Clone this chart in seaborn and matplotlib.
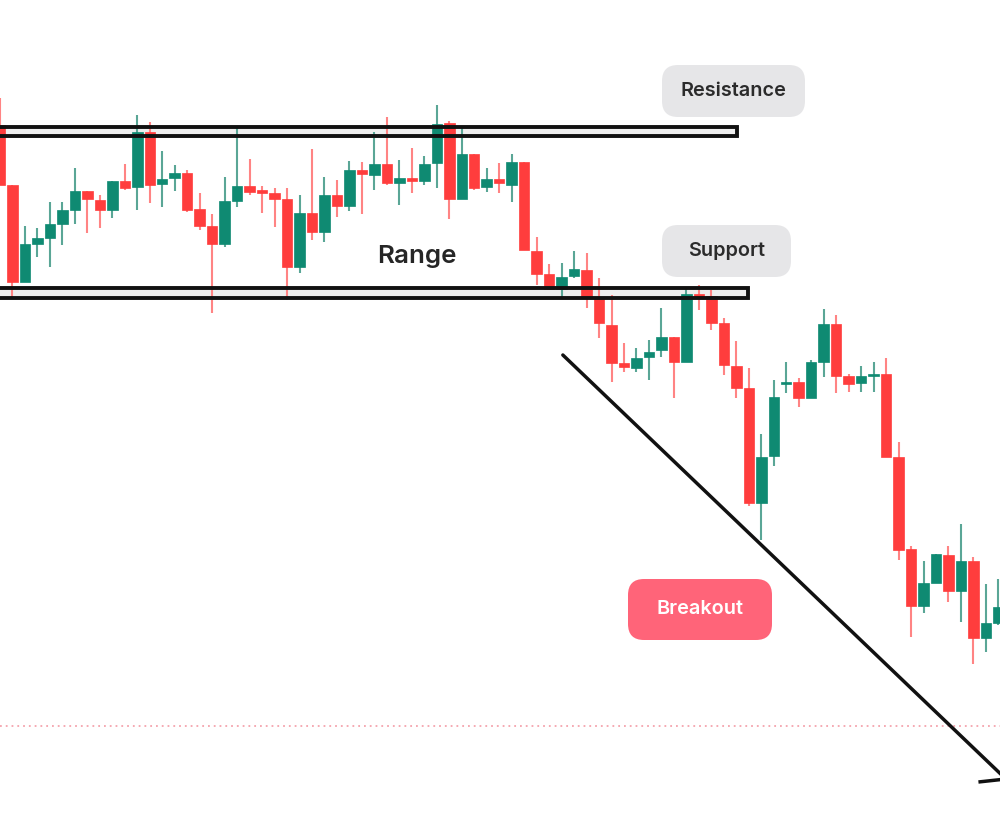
import matplotlib
matplotlib.use("Agg")
import matplotlib.pyplot as plt
from matplotlib.patches import FancyBboxPatch, Rectangle
import numpy as np
import pandas as pd
import seaborn as sns

# ---- data (price units) ----
opens = [710, 650, 553, 591, 597, 611, 625, 644, 635, 625, 654, 648, 703, 651, 657, 662, 626, 609, 591, 634,
         649, 645, 642, 636, 568, 622, 603, 640, 629, 665, 660, 671, 652, 657, 654, 672, 712, 636, 681, 648,
         656, 650, 673, 584, 561, 546, 559, 565, 538, 510, 472, 467, 478, 485, 498, 473, 541, 539, 512, 469,
         447, 332, 379, 451, 453, 437, 473, 511, 459, 452, 459, 461, 378, 286, 229, 252, 280, 244, 274, 197, 212]
highs = [737, 650, 609, 607, 633, 633, 667, 644, 640, 654, 671, 720, 713, 684, 670, 665, 642, 621, 658, 709,
         676, 649, 647, 647, 640, 686, 658, 655, 674, 673, 703, 718, 675, 687, 679, 730, 714, 709, 681, 667,
         672, 681, 673, 598, 571, 572, 584, 582, 557, 540, 492, 487, 495, 527, 498, 548, 550, 545, 517, 494,
         467, 401, 455, 473, 457, 475, 526, 520, 461, 469, 473, 477, 393, 289, 274, 281, 289, 311, 278, 251, 256]
lows = [650, 537, 553, 578, 568, 590, 611, 602, 607, 617, 645, 625, 632, 628, 644, 623, 605, 522, 588, 628,
        640, 622, 608, 535, 562, 595, 593, 618, 624, 621, 645, 650, 630, 642, 650, 647, 616, 636, 645, 643,
        642, 633, 585, 550, 545, 538, 557, 527, 497, 453, 463, 463, 455, 478, 437, 473, 525, 505, 460, 437,
        329, 295, 369, 442, 428, 437, 458, 442, 443, 443, 443, 378, 275, 198, 222, 252, 233, 213, 171, 183, 210]
closes = [650, 553, 591, 597, 611, 625, 644, 636, 625, 654, 647, 703, 650, 656, 662, 625, 609, 591, 634, 649,
          643, 642, 636, 568, 622, 603, 640, 629, 665, 661, 671, 652, 657, 654, 671, 711, 636, 681, 647, 656,
          652, 673, 585, 561, 546, 558, 566, 537, 512, 472, 468, 477, 483, 498, 473, 541, 537, 512, 470, 447,
          332, 378, 438, 453, 437, 473, 511, 459, 451, 459, 461, 378, 285, 229, 252, 281, 244, 274, 197, 212, 228]

resistance_band = (699, 708)
support_band = (537.5, 547.5)
trend_prices = [480, 56]
trend_index = [45.1, 80.6]
target_level = 109
labels = {"resistance": "Resistance", "support": "Support", "breakout": "Breakout", "range": "Range"}

df = pd.DataFrame({"open": opens, "high": highs, "low": lows, "close": closes})
df["idx"] = np.arange(len(df))
df["up"] = df["close"] >= df["open"]

UP = "#0f8a72"
DOWN = "#ff3d3d"
UP_W = "#5aa696"
DOWN_W = "#ff8484"

sns.set_theme(style="white")
plt.rcParams["font.family"] = ["Inter", "DejaVu Sans"]

fig = plt.figure(figsize=(10, 8.35), dpi=100)
ax = fig.add_axes([0, 0, 1, 1])
ax.set_xlim(0, 1000 / 12.48)
ax.set_ylim(0, 835)
ax.axis("off")
fig.patch.set_facecolor("white")

# target dotted level
ax.axhline(target_level, color="#f4a3ad", lw=1.3, ls=(0, (1, 2.2)), zorder=0)

# band fills (below candles)
for (lo, hi), right in [(resistance_band, 59.05), (support_band, 59.94)]:
    ax.add_patch(Rectangle((-2, lo), right + 2, hi - lo, facecolor="#eeeeee",
                           edgecolor="none", zorder=1))

# candles
w = 0.84
for _, r in df.iterrows():
    cb = UP if r["up"] else DOWN
    cw = UP_W if r["up"] else DOWN_W
    ax.vlines(r["idx"], r["low"], r["high"], color=cw, lw=1.5, zorder=2)
    bottom = min(r["open"], r["close"])
    height = max(abs(r["close"] - r["open"]), 2)
    ax.bar(r["idx"], height, bottom=bottom, width=w, color=cb, edgecolor=cb,
           linewidth=0.5, zorder=3)

# band outlines (over candles)
for (lo, hi), right in [(resistance_band, 59.05), (support_band, 59.94)]:
    ax.add_patch(Rectangle((-2, lo), right + 2, hi - lo, facecolor="none",
                           edgecolor="#111111", lw=2.8, zorder=4))

# breakout trend line
trend = pd.DataFrame({"x": trend_index, "y": trend_prices})
sns.lineplot(data=trend, x="x", y="y", ax=ax, color="#111111", lw=2.5, zorder=5)
ax.plot([78.4, 80.6], [53, 56], color="#111111", lw=2.5, zorder=5, solid_capstyle="butt")
ax.set_xlabel("")
ax.set_ylabel("")


def px(x, y):
    return x / 1000, 1 - y / 835


def label_box(x0, y0, x1, y1, text, fc, tc):
    bx, by = px(x0, y1)
    bw = (x1 - x0) / 1000
    bh = (y1 - y0) / 835
    r = 0.016
    ax.add_patch(FancyBboxPatch((bx + r, by + r * 1000 / 835), bw - 2 * r, bh - 2 * r * 1000 / 835,
                                boxstyle=f"round,pad={r},rounding_size={r}",
                                mutation_aspect=1000 / 835,
                                transform=ax.transAxes, facecolor=fc, edgecolor="none", zorder=6))
    cx, cy = px((x0 + x1) / 2, (y0 + y1) / 2)
    ax.text(cx, cy, text, transform=ax.transAxes, ha="center", va="center",
            fontsize=14.3, fontweight="semibold", color=tc, zorder=7)


label_box(662, 65, 805, 117, labels["resistance"], "#e6e6e8", "#2b2b2b")
label_box(662, 225, 791, 277, labels["support"], "#e6e6e8", "#2b2b2b")
label_box(628, 579, 772, 640, labels["breakout"], "#ff6479", "white")

rx, ry = px(417, 257)
ax.text(rx, ry, labels["range"], transform=ax.transAxes, ha="center", va="center",
        fontsize=18.7, fontweight="semibold", color="#262626", zorder=7)

fig.savefig("out.png", dpi=100)
